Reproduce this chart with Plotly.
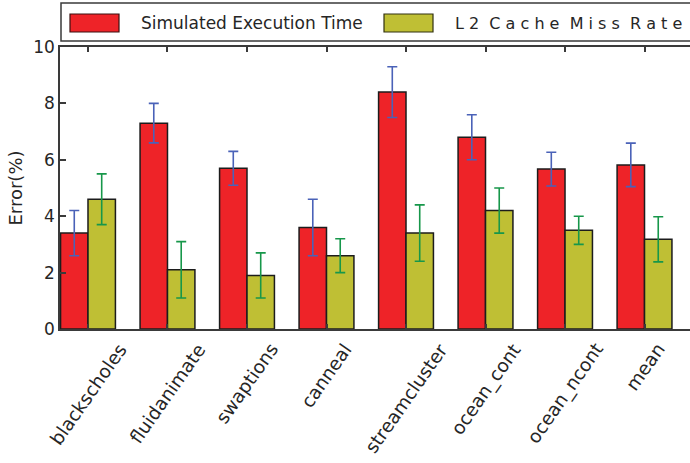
import plotly.graph_objects as go

# Benchmarks and per-benchmark error figures (percent)
benchmarks = ["blackscholes", "fluidanimate", "swaptions", "canneal",
              "streamcluster", "ocean_cont", "ocean_ncont", "mean"]
exec_time_err = [3.4, 7.3, 5.7, 3.6, 8.4, 6.8, 5.67, 5.82]
exec_time_dev = [0.8, 0.7, 0.6, 1.0, 0.9, 0.8, 0.6, 0.77]
l2_miss_err = [4.6, 2.1, 1.9, 2.6, 3.4, 4.2, 3.5, 3.18]
l2_miss_dev = [0.9, 1.0, 0.8, 0.6, 1.0, 0.8, 0.5, 0.8]

NB = "\u00a0"
series_names = [
    "Simulated Execution Time",
    f"L 2{NB} C a c h e{NB} M i s s{NB} R a t e",
]
y_ticks = [0, 2, 4, 6, 8, 10]

RED = "#ee2328"
OLIVE = "#bfbf34"
BLUE = "#4a62b8"
GREEN = "#17974a"
INK = "#262626"
AXIS = "#3a3a3a"
FONT = "DejaVu Sans"

W, H = 690, 463
ML, MR, MT, MB = 60, 0, 47, 134
PW, PH = W - ML - MR, H - MT - MB


def px_x(px):
    return (px - ML) / PW


def px_y(py):
    return (H - MB - py) / PH


idx = list(range(len(benchmarks)))

fig = go.Figure()
fig.add_trace(go.Bar(
    x=idx, y=exec_time_err, name=series_names[0],
    marker=dict(color=RED, line=dict(color="#1c1c1c", width=1.5)),
    error_y=dict(type="data", array=exec_time_dev, color=BLUE,
                 thickness=1.6, width=5),
    showlegend=False,
))
fig.add_trace(go.Bar(
    x=idx, y=l2_miss_err, name=series_names[1],
    marker=dict(color=OLIVE, line=dict(color="#1c1c1c", width=1.5)),
    error_y=dict(type="data", array=l2_miss_dev, color=GREEN,
                 thickness=1.6, width=5),
    showlegend=False,
))

# Rotated category labels under the axis
annotations = []
for i, name in enumerate(benchmarks):
    annotations.append(dict(
        x=i, y=px_y(337), xref="x", yref="paper", text=name,
        showarrow=False, textangle=-55, xanchor="center", yanchor="top",
        font=dict(family=FONT, size=18.5, color=INK),
    ))

# Legend box drawn across the top
shapes = [
    dict(type="rect", xref="paper", yref="paper",
         x0=px_x(61), x1=px_x(700), y0=px_y(41), y1=px_y(3),
         line=dict(color=AXIS, width=1.5), fillcolor="white"),
    dict(type="rect", xref="paper", yref="paper",
         x0=px_x(70), x1=px_x(119), y0=px_y(32), y1=px_y(14),
         line=dict(color="#3a1010", width=1.2), fillcolor=RED),
    dict(type="rect", xref="paper", yref="paper",
         x0=px_x(384), x1=px_x(433), y0=px_y(32), y1=px_y(14),
         line=dict(color="#303010", width=1.2), fillcolor=OLIVE),
]
for label, left, size in zip(series_names, [139, 453], [17, 16]):
    annotations.append(dict(
        x=px_x(left), y=px_y(23), xref="paper", yref="paper", text=label,
        showarrow=False, xanchor="left", yanchor="middle",
        font=dict(family=FONT, size=size, color=INK),
    ))

fig.update_layout(
    width=W, height=H,
    margin=dict(l=ML, r=MR, t=MT, b=MB, pad=0),
    paper_bgcolor="white", plot_bgcolor="white",
    barmode="group", bargap=0.31, bargroupgap=0,
    font=dict(family=FONT, size=17, color=INK),
    shapes=shapes, annotations=annotations,
    xaxis=dict(
        range=[-0.352, 7.572], tickvals=idx, showticklabels=False,
        ticks="inside", ticklen=5, tickwidth=1.5, tickcolor=AXIS,
        showline=True, linecolor=AXIS, linewidth=1.5, mirror="ticks",
        showgrid=False, zeroline=False,
    ),
    yaxis=dict(
        range=[0, 10], tickvals=y_ticks,
        ticks="inside", ticklen=6, tickwidth=1.5, tickcolor=AXIS,
        showline=True, linecolor=AXIS, linewidth=1.5, mirror=False,
        showgrid=False, zeroline=False,
        tickfont=dict(family=FONT, size=17, color=INK),
        title=dict(text="Error(%)", font=dict(family=FONT, size=18, color=INK),
                   standoff=6),
    ),
    yaxis2=dict(
        overlaying="y", side="right", anchor="x", matches="y",
        range=[0, 10], tickvals=y_ticks, showticklabels=False,
        ticks="inside", ticklen=2, tickwidth=1.5, tickcolor=AXIS,
        showline=False, showgrid=False, zeroline=False,
    ),
)

fig.write_html("out.html")
